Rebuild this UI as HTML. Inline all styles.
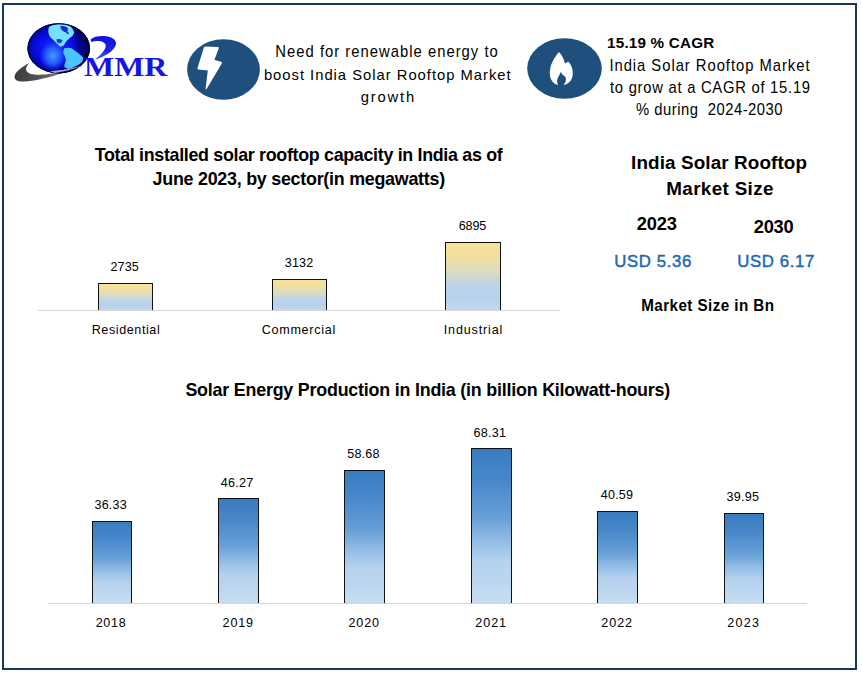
<!DOCTYPE html>
<html><head><meta charset="utf-8"><title>India Solar Rooftop Market</title>
<style>
html,body{margin:0;padding:0;background:#fff;width:862px;height:673px;overflow:hidden}
body{position:relative;font-family:"Liberation Sans",sans-serif;color:#000}
.frame{position:absolute;left:2px;top:3px;width:855px;height:667px;box-sizing:border-box;border:2px solid #16365a}
.t{position:absolute;white-space:nowrap}
.yb{position:absolute;box-sizing:border-box;border:1.5px solid #111;border-bottom:none;
 background:linear-gradient(to bottom,#f6e29a 0%,#f4e09c 16%,#dddcc0 42%,#bdd4e9 63%,#b6d1ed 85%,#c4daf0 100%)}
.bb{position:absolute;box-sizing:border-box;border:1.5px solid #111;border-bottom:none;
 background:linear-gradient(to bottom,#3a7bc0 0%,#4787c9 20%,#68a0d8 45%,#93bde6 60%,#b5d1ee 73%,#bed7f0 88%,#c8ddf2 100%)}
.ax{position:absolute;height:1px;background:#d4d4d4}
</style></head><body>
<div class="frame"></div>
<svg style="position:absolute;left:0;top:0" width="180" height="100" viewBox="0 0 180 100">
 <defs>
  <radialGradient id="gl" cx="0.44" cy="0.5" r="0.55">
   <stop offset="0" stop-color="#1a30ff"/>
   <stop offset="0.45" stop-color="#0a10f0"/>
   <stop offset="0.7" stop-color="#0507c0"/>
   <stop offset="0.84" stop-color="#030384"/>
   <stop offset="0.95" stop-color="#01014a"/>
   <stop offset="1" stop-color="#000020"/>
  </radialGradient>
  <radialGradient id="mid" cx="0.5" cy="0.5" r="0.5">
   <stop offset="0" stop-color="#4a9cff"/>
   <stop offset="0.55" stop-color="#2d6cff" stop-opacity="0.75"/>
   <stop offset="1" stop-color="#1a3cff" stop-opacity="0"/>
  </radialGradient>
  <radialGradient id="dk" cx="0.5" cy="0.5" r="0.5">
   <stop offset="0" stop-color="#000060" stop-opacity="0.7"/>
   <stop offset="1" stop-color="#000060" stop-opacity="0"/>
  </radialGradient>
  <linearGradient id="sw" x1="0" y1="0" x2="1" y2="0">
   <stop offset="0" stop-color="#3a3a3a"/>
   <stop offset="0.45" stop-color="#5c5c5c"/>
   <stop offset="0.8" stop-color="#8a8c96"/>
   <stop offset="1" stop-color="#b0b4c8"/>
  </linearGradient>
  <linearGradient id="cr" x1="0" y1="0" x2="0" y2="1">
   <stop offset="0" stop-color="#1212dc"/>
   <stop offset="0.6" stop-color="#1a22e6"/>
   <stop offset="1" stop-color="#4060ff"/>
  </linearGradient>
  <clipPath id="gc"><ellipse cx="58.7" cy="48.3" rx="31.3" ry="25.1"/></clipPath>
 </defs>
 <path d="M29,63 C22,67 14.5,72 14.5,77 C14.8,80.5 18.5,81.8 24,81.6 C34,81 45,78.3 53,76 C62,73.5 74,69.5 82.4,65.8 C74,68.5 62,71.5 52,73.6 C44,75 36,75.2 31,74 C25.8,72.5 25.2,69 27,66 Z" fill="url(#sw)"/>
 <ellipse cx="58.7" cy="48.3" rx="31.3" ry="25.1" fill="url(#gl)"/>
 <g clip-path="url(#gc)">
  <ellipse cx="84" cy="42" rx="12" ry="18" fill="url(#dk)"/>
  <ellipse cx="53" cy="56" rx="14" ry="15" fill="url(#mid)"/>
  <path d="M49.1,26.7 C52,25.2 55,24.6 58,24.3 C62,24 66,24.1 69,25.6 C71.5,27 73.4,29.5 74.1,32.5 C73.5,34.6 72.6,35.8 71.6,36.7 C69.5,38.2 67.8,39.6 66.6,40.8 C65.5,42.5 64.8,44 64.1,45 C62.5,46.2 61,46.8 60,46.6 C58.6,45.4 57.6,44.2 56.6,43.3 C55.3,41.8 54.2,40.8 53.3,40 C51.8,38.8 50.8,37.8 50,36.7 C49,35 48.4,33.4 48.3,31.7 C48.2,29.8 48.5,28.1 49.1,26.7 Z" fill="#74e2ff"/>
  <path d="M60.5,26.2 C63,25.5 66,26.2 67.8,28.2 C68.6,29.6 67.5,31.8 65.6,32.2 C64,32 62.5,30.8 61.5,29.5 C60.6,28.4 60.2,27.2 60.5,26.2 Z" fill="#1a2ad0"/>
  <path d="M66,31 C67.5,31 69,32 69,33.5 C68,34.5 66.5,34.2 66,33 Z" fill="#2a3ee0"/>
  <path d="M56.5,39.5 C58.5,38.6 61.5,39 62.5,40.6 C62.2,42.6 60,43.6 58.2,43 C57,42.2 56.4,40.8 56.5,39.5 Z" fill="#1838d8"/>
  <path d="M64.1,48.3 C67,47.6 69.5,47.6 71.6,48.3 C74,49.8 76.3,51.5 78.3,53.3 C80.3,54.8 82,56.2 83.3,57.5 C83.2,59.4 82.6,61 81.6,62.5 C79.6,64 77.4,65.4 75,66.6 C72.8,67.7 70.5,68.6 68.3,69.1 C66.8,68.6 65.3,67.8 64.1,66.6 C64.6,64.4 65.3,62.2 65.8,60 C65.4,57.6 64.6,55.4 63.3,53.3 C63.4,51.4 63.6,49.8 64.1,48.3 Z" fill="#4cc4ff"/>
 </g>
 <ellipse cx="58.7" cy="48.3" rx="30.8" ry="24.6" fill="none" stroke="#00002a" stroke-width="1"/>
 <path d="M50,71.2 C62,70.6 74,67.8 82.4,65.8 C76,68.6 66,71.4 55,73 Z" fill="#9aa2c8"/>
 <path d="M90.6,39.4 C93.5,36.6 99.5,35.6 106,36.2 C111,36.7 115,38.8 116,42.5 C116.5,46.5 113,50.2 108.5,53.4 C104.5,56 99.8,58.2 95,59.4 C98,57 100.6,55 102.4,52.6 C104.6,50 106,47.4 105.7,45.2 C105.3,43.2 103.4,41.8 100.4,41.2 C97.2,40.6 93.8,41 91.2,42 Z" fill="url(#cr)"/>
 <text x="84" y="76" font-family="'Liberation Serif',serif" font-weight="700" font-size="27.3" fill="#1414e6" transform="translate(84,76) scale(1.17,1) translate(-84,-76)">MMR</text>
</svg>

<svg style="position:absolute;left:0;top:0" width="862" height="130" viewBox="0 0 862 130">
 <ellipse cx="223.5" cy="69.5" rx="36.4" ry="30.2" fill="#1f507d"/>
 <path d="M205.2,46.6 L218.0,46.9 Q219.2,47 218.8,48.2 L214.4,60.1 L221.2,61.8 Q222.6,62.3 221.8,63.6 L206.6,89 Q205.6,90.2 205.6,88.6 L207.8,70.6 L198.4,69.6 Q197,69.4 197.5,68.1 L203.9,47.6 Q204.3,46.6 205.2,46.6 Z" fill="#fff"/>
 <ellipse cx="564.5" cy="68.5" rx="37.3" ry="30.2" fill="#1f507d"/>
 <path d="M559,52.1 C554,58 549.8,65 549.8,73 C549.8,80 553.5,84 558,85 C556.5,82 557,79 558.5,76.5 C559.5,75 560.3,73.5 560.6,72 C562,74 563.5,75.5 565.3,76.7 C566.5,79 566.2,82 563.5,85 C569,84 572.8,80 572.8,73 C572.8,68 571,64 568.1,61.4 C567,62.5 566,63.2 565,63.6 C564,59 561.5,55 559,52.1 Z" fill="#fff"/>
</svg>

<div class="ax" style="left:38px;top:310px;width:522px"></div>
<div class="ax" style="left:48px;top:603px;width:759px"></div>
<div class="yb" style="left:98px;top:283px;width:55px;height:27px"></div>
<div class="yb" style="left:272px;top:279px;width:55px;height:31px"></div>
<div class="yb" style="left:445px;top:242px;width:56px;height:68px"></div>
<div class="bb" style="left:92px;top:521px;width:40px;height:82px"></div>
<div class="bb" style="left:218px;top:498px;width:41px;height:105px"></div>
<div class="bb" style="left:344px;top:470px;width:41px;height:133px"></div>
<div class="bb" style="left:471px;top:448px;width:41px;height:155px"></div>
<div class="bb" style="left:597px;top:511px;width:41px;height:92px"></div>
<div class="bb" style="left:724px;top:513px;width:40px;height:90px"></div>
<div class="t" style="left:275.3px;top:44.8px;font-size:14.8px;line-height:14.8px;transform:scaleY(1.09);transform-origin:0 12.58px;font-weight:400;letter-spacing:1.019px;color:#000">Need for renewable energy to</div>
<div class="t" style="left:263.9px;top:67.8px;font-size:14.804px;line-height:14.804px;font-weight:400;letter-spacing:0.981px;color:#000">boost India Solar Rooftop Market</div>
<div class="t" style="left:360.8px;top:89.6px;font-size:14.804px;line-height:14.804px;font-weight:400;letter-spacing:1.78px;color:#000">growth</div>
<div class="t" style="left:607.1px;top:34.8px;font-size:15.223px;line-height:15.223px;font-weight:700;letter-spacing:0.2px;color:#000">15.19 % CAGR</div>
<div class="t" style="left:609.4px;top:58.75px;font-size:14.8px;line-height:14.8px;transform:scaleY(1.09);transform-origin:0 12.58px;font-weight:400;letter-spacing:0.964px;color:#000">India Solar Rooftop Market</div>
<div class="t" style="left:610.0px;top:80.65px;font-size:14.8px;line-height:14.8px;transform:scaleY(1.09);transform-origin:0 12.58px;font-weight:400;letter-spacing:0.732px;color:#000">to grow at a CAGR of 15.19</div>
<div class="t" style="left:635.9px;top:102.5px;font-size:14.8px;line-height:14.8px;transform:scaleY(1.09);transform-origin:0 12.58px;font-weight:400;letter-spacing:0.517px;color:#000">% during&nbsp; 2024-2030</div>
<div class="t" style="left:94.7px;top:146.7px;font-size:17.88px;line-height:17.88px;font-weight:700;letter-spacing:-0.315px;color:#000">Total installed solar rooftop capacity in India as of</div>
<div class="t" style="left:152.6px;top:170.7px;font-size:17.88px;line-height:17.88px;font-weight:700;letter-spacing:-0.248px;color:#000">June 2023, by sector(in megawatts)</div>
<div class="t" style="left:110.6px;top:260.8px;font-size:12.57px;line-height:12.57px;font-weight:400;letter-spacing:0.033px;color:#000">2735</div>
<div class="t" style="left:284.75px;top:256.8px;font-size:12.57px;line-height:12.57px;font-weight:400;letter-spacing:0.183px;color:#000">3132</div>
<div class="t" style="left:458.8px;top:219.9px;font-size:12.57px;line-height:12.57px;font-weight:400;letter-spacing:-0.167px;color:#000">6895</div>
<div class="t" style="left:91.7px;top:323.7px;font-size:12.57px;line-height:12.57px;font-weight:400;letter-spacing:0.59px;color:#000">Residential</div>
<div class="t" style="left:261.7px;top:323.9px;font-size:12.57px;line-height:12.57px;font-weight:400;letter-spacing:0.733px;color:#000">Commercial</div>
<div class="t" style="left:443.8px;top:323.8px;font-size:12.57px;line-height:12.57px;font-weight:400;letter-spacing:0.833px;color:#000">Industrial</div>
<div class="t" style="left:631.1px;top:153.9px;font-size:18.855px;line-height:18.855px;font-weight:700;letter-spacing:0.117px;color:#000">India Solar Rooftop</div>
<div class="t" style="left:666.3px;top:179.7px;font-size:18.85px;line-height:18.85px;font-weight:700;letter-spacing:0.34px;color:#000">Market Size</div>
<div class="t" style="left:636.7px;top:214.9px;font-size:18.3px;line-height:18.3px;font-weight:700;letter-spacing:-0.167px;color:#000">2023</div>
<div class="t" style="left:753.8px;top:217.9px;font-size:18.3px;line-height:18.3px;font-weight:700;letter-spacing:-0.3px;color:#000">2030</div>
<div class="t" style="left:614.2px;top:253.8px;font-size:16.76px;line-height:16.76px;font-weight:400;letter-spacing:0.643px;color:#1b69ad;-webkit-text-stroke:0.45px #1b69ad">USD 5.36</div>
<div class="t" style="left:737.2px;top:253.8px;font-size:16.76px;line-height:16.76px;font-weight:400;letter-spacing:0.657px;color:#1b69ad;-webkit-text-stroke:0.45px #1b69ad">USD 6.17</div>
<div class="t" style="left:641.2px;top:297.8px;font-size:15.2px;line-height:15.2px;transform:scaleY(1.09);transform-origin:0 12.92px;font-weight:700;letter-spacing:0.444px;color:#000">Market Size in Bn</div>
<div class="t" style="left:185.4px;top:381.9px;font-size:17.877px;line-height:17.877px;font-weight:700;letter-spacing:-0.208px;color:#000">Solar Energy Production in India (in billion Kilowatt-hours)</div>
<div class="t" style="left:94.4px;top:499.0px;font-size:12.57px;line-height:12.57px;font-weight:400;letter-spacing:0.25px;color:#000">36.33</div>
<div class="t" style="left:220.8px;top:477.0px;font-size:12.57px;line-height:12.57px;font-weight:400;letter-spacing:0.25px;color:#000">46.27</div>
<div class="t" style="left:347.2px;top:448.0px;font-size:12.57px;line-height:12.57px;font-weight:400;letter-spacing:0.225px;color:#000">58.68</div>
<div class="t" style="left:473.6px;top:427.0px;font-size:12.57px;line-height:12.57px;font-weight:400;letter-spacing:0.225px;color:#000">68.31</div>
<div class="t" style="left:600.8px;top:489.0px;font-size:12.57px;line-height:12.57px;font-weight:400;letter-spacing:0.2px;color:#000">40.59</div>
<div class="t" style="left:726.5px;top:491.0px;font-size:12.57px;line-height:12.57px;font-weight:400;letter-spacing:0.25px;color:#000">39.95</div>
<div class="t" style="left:95.7px;top:617.0px;font-size:12.57px;line-height:12.57px;font-weight:400;letter-spacing:0.667px;color:#000">2018</div>
<div class="t" style="left:222.6px;top:617.0px;font-size:12.57px;line-height:12.57px;font-weight:400;letter-spacing:0.8px;color:#000">2019</div>
<div class="t" style="left:348.5px;top:617.0px;font-size:12.57px;line-height:12.57px;font-weight:400;letter-spacing:0.867px;color:#000">2020</div>
<div class="t" style="left:475.3px;top:617.0px;font-size:12.57px;line-height:12.57px;font-weight:400;letter-spacing:0.933px;color:#000">2021</div>
<div class="t" style="left:601.3px;top:617.0px;font-size:12.57px;line-height:12.57px;font-weight:400;letter-spacing:0.933px;color:#000">2022</div>
<div class="t" style="left:727.3px;top:617.0px;font-size:12.57px;line-height:12.57px;font-weight:400;letter-spacing:1.233px;color:#000">2023</div>
</body></html>
